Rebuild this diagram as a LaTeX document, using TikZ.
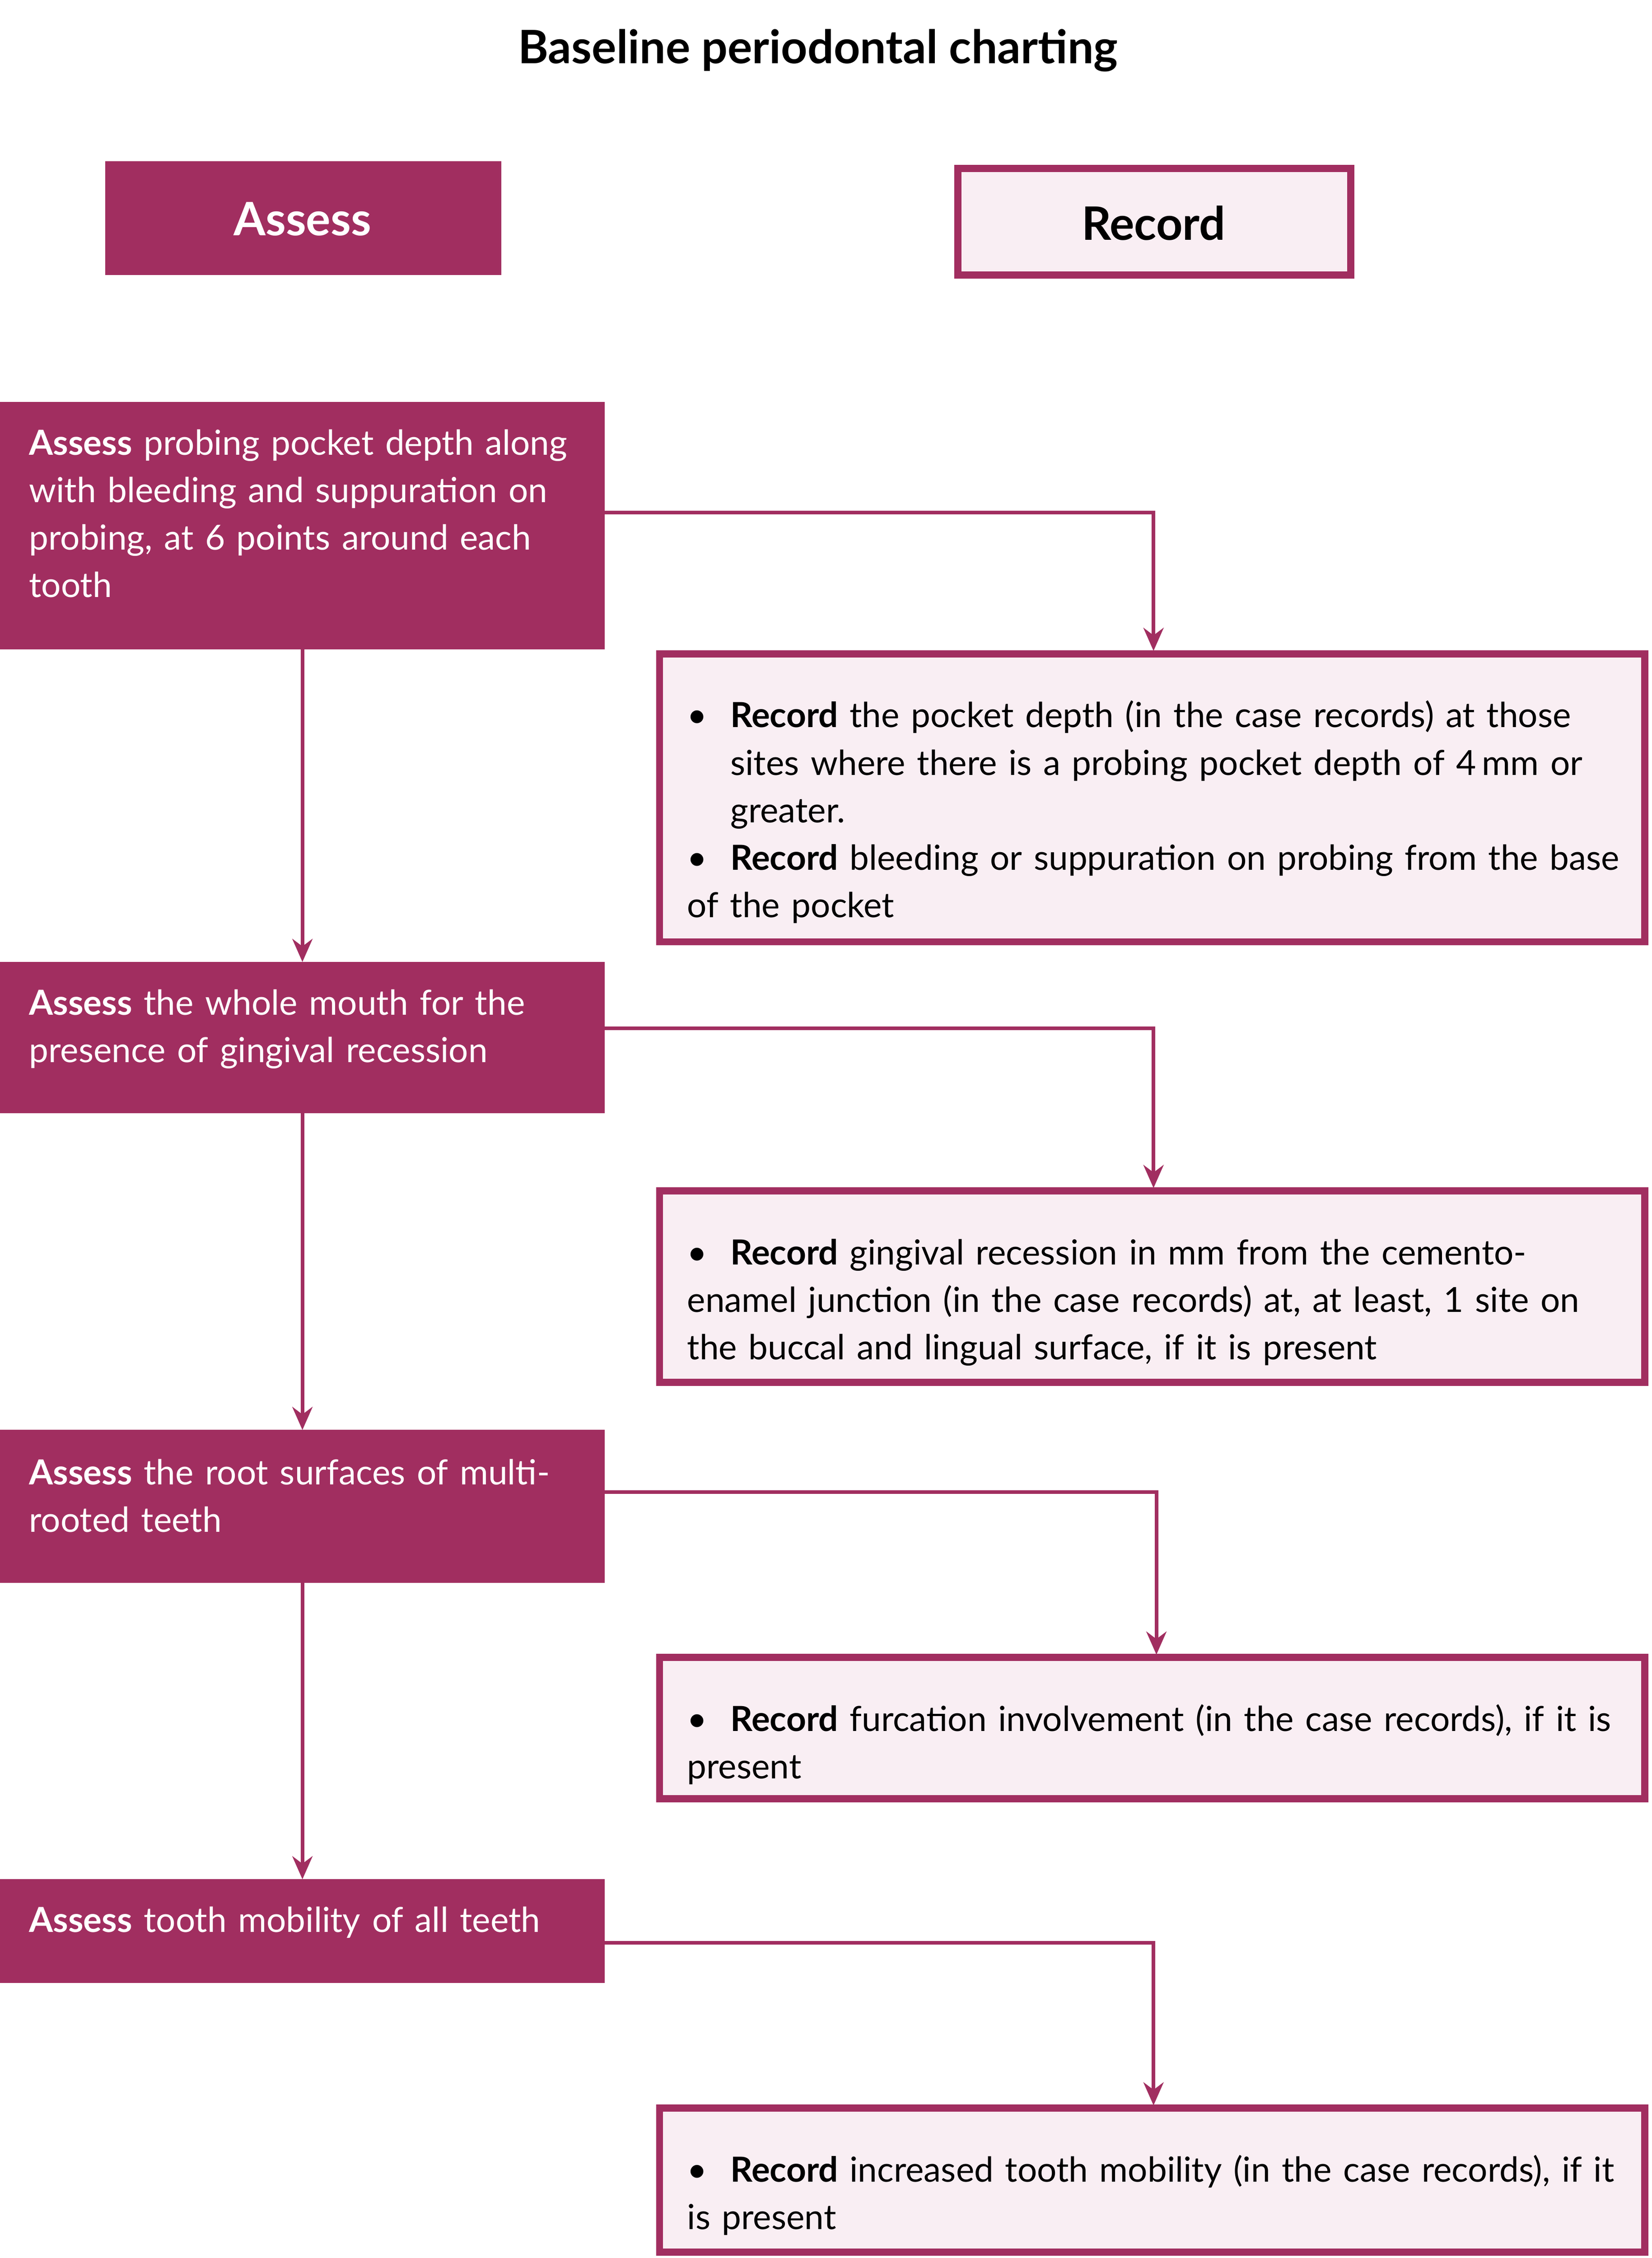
\documentclass[tikz,border=0pt]{standalone}
\usepackage{fontspec}
\setmainfont{Lato}
\usetikzlibrary{arrows.meta}
\definecolor{mag}{HTML}{A12E60}
\definecolor{pinkbg}{HTML}{F9EEF3}
\tikzset{
 abox/.style={fill=mag,draw=none},
 rbox/.style={fill=pinkbg,draw=mag,line width=5pt},
 atext/.style={anchor=north west,inner sep=0pt,text width=395pt,align=left,text=white,font=\fontsize{24}{33}\selectfont},
 rtext/.style={anchor=north west,inner sep=0pt,text width=650pt,align=left,font=\fontsize{24}{33}\selectfont},
 conn/.style={draw=mag,line width=2.5pt,-{Stealth[length=16pt,width=14pt]}},
}
\newcommand{\bitem}[1]{\par\noindent\hangindent=30pt\hangafter=1\makebox[30pt][l]{\textbullet}#1}
\begin{document}
\begin{tikzpicture}[x=1pt,y=-1pt]
\useasboundingbox (0,0) rectangle (1147,1568);
\node[font=\fontsize{32}{36}\selectfont\bfseries] (title) at (568,35) {Baseline periodontal charting};
\fill[mag] (73,112) rectangle (348,191);
\node[text=white,font=\fontsize{32}{36}\selectfont\bfseries] (ha) at (210,152) {Assess};
\draw[rbox] (665,117) rectangle (938,191);
\node[font=\fontsize{32}{36}\selectfont\bfseries] (hr) at (801,155) {Record};
% assess boxes
\fill[abox] (0,279) rectangle (420,451); \coordinate (a1) at (0,279);
\fill[abox] (0,668) rectangle (420,773);
\fill[abox] (0,993) rectangle (420,1099);
\fill[abox] (0,1305) rectangle (420,1377);
\node[atext] (t1) at (20,298) {\textbf{Assess} probing pocket depth along with bleeding and suppuration on probing, at 6 points around each tooth};
\node[atext] (t2) at (20,687) {\textbf{Assess} the whole mouth for the presence of gingival recession};
\node[atext] (t3) at (20,1013) {\textbf{Assess} the root surfaces of multirooted teeth};
\node[atext] (t4) at (20,1324) {\textbf{Assess} tooth mobility of all teeth};
% record boxes
\draw[rbox] (458,454) rectangle (1142,654);
\draw[rbox] (458,827) rectangle (1142,960);
\draw[rbox] (458,1151) rectangle (1142,1249);
\draw[rbox] (458,1464) rectangle (1142,1564);
\node[rtext] (r1) at (477,472) {\bitem{\textbf{Record} the pocket depth (in the case records) at those sites where there is a probing pocket depth of 4\,mm or greater.}\bitem{\textbf{Record} bleeding or suppuration on probing from the base of the pocket}};
\node[rtext] (r2) at (477,845) {\bitem{\textbf{Record} gingival recession in mm from the cemento-enamel junction (in the case records) at, at least, 1 site on the buccal and lingual surface, if it is present}};
\node[rtext] (r3) at (477,1169) {\bitem{\textbf{Record} furcation involvement (in the case records), if it is present}};
\node[rtext] (r4) at (477,1482) {\bitem{\textbf{Record} increased tooth mobility (in the case records), if it is present}};
% connectors
\coordinate (s1) at (420,356); \coordinate (e1) at (801,452);
\coordinate (s2) at (420,714); \coordinate (e2) at (801,825);
\coordinate (s3) at (420,1036); \coordinate (e3) at (803,1149);
\coordinate (s4) at (420,1349); \coordinate (e4) at (801,1462);
\draw[conn] (s1) -| (e1);
\draw[conn] (s2) -| (e2);
\draw[conn] (s3) -| (e3);
\draw[conn] (s4) -| (e4);
\coordinate (d1) at (210,451); \coordinate (u2) at (210,668);
\coordinate (d2) at (210,773); \coordinate (u3) at (210,993);
\coordinate (d3) at (210,1099); \coordinate (u4) at (210,1305);
\draw[conn] (d1) -- (u2);
\draw[conn] (d2) -- (u3);
\draw[conn] (d3) -- (u4);
\end{tikzpicture}
\end{document}
